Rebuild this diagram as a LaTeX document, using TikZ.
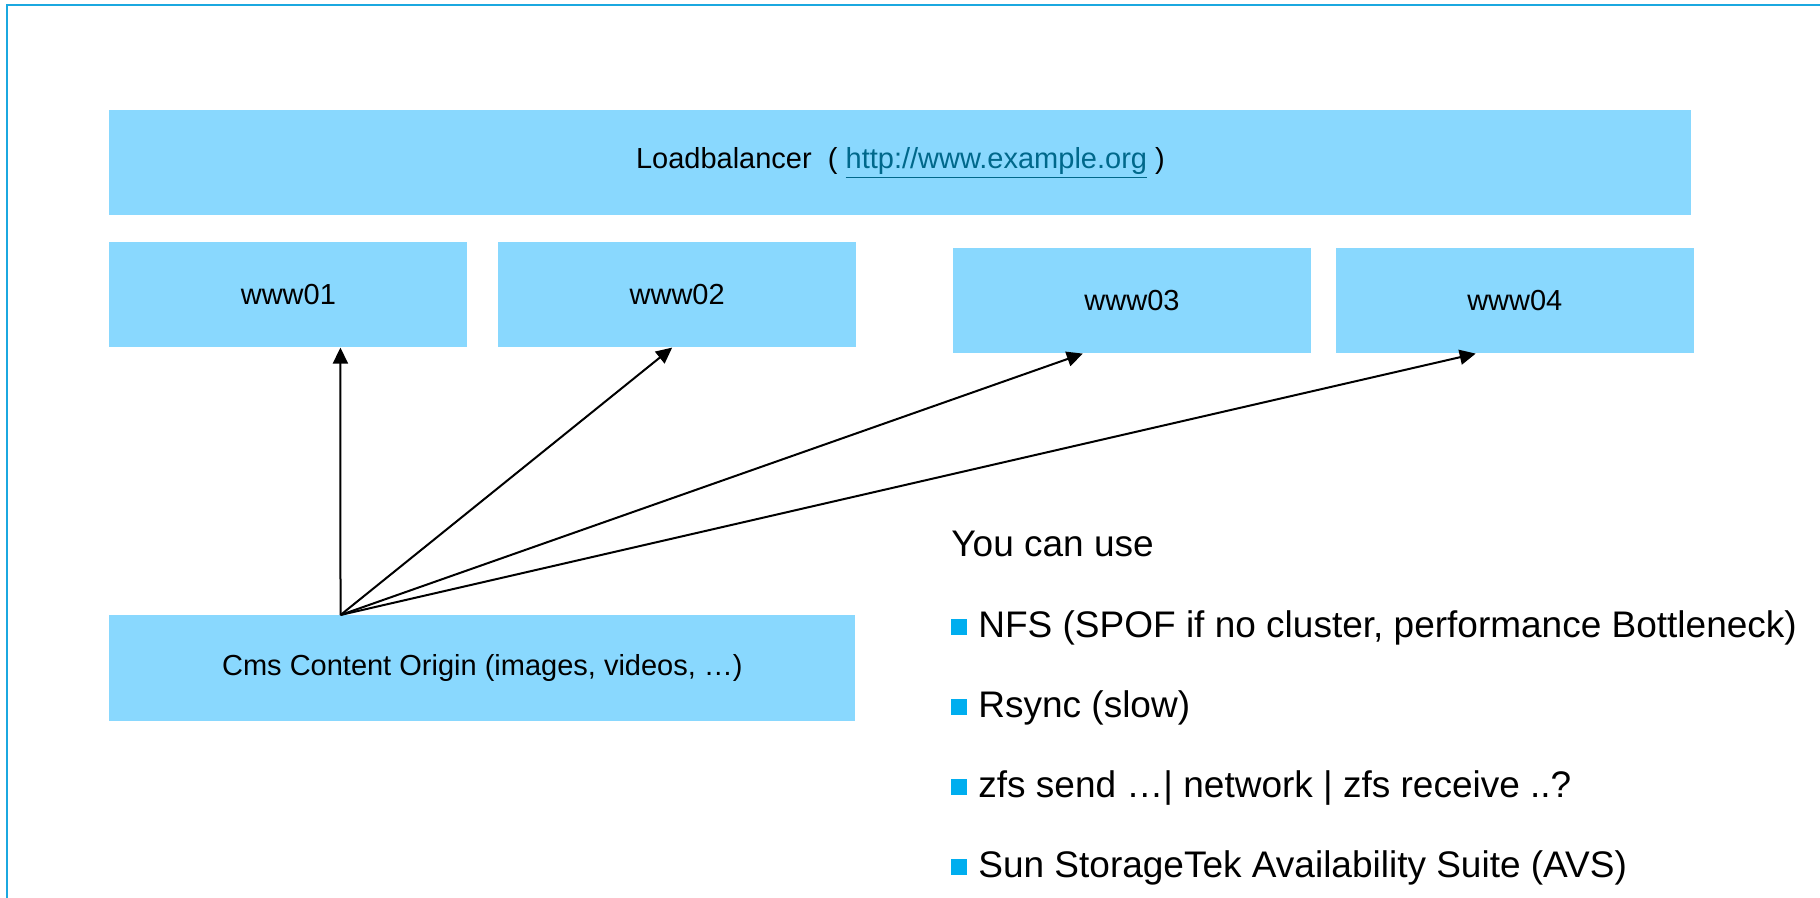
\documentclass[tikz,border=0pt]{standalone}
\usepackage{fontspec}
\setmainfont{Liberation Sans}
\usetikzlibrary{arrows.meta, calc, positioning}
\definecolor{boxblue}{RGB}{137,216,254}
\definecolor{framecyan}{RGB}{27,168,224}
\definecolor{bulletcyan}{RGB}{0,174,239}
\definecolor{linkteal}{RGB}{0,104,139}
\tikzset{
	server/.style={rectangle, fill=boxblue, inner sep=0pt, minimum width=179pt, minimum height=52.5pt, font=\fontsize{14.5pt}{17pt}\selectfont},
	feed/.style={line width=1pt, -{Triangle[length=8pt,width=7.5pt]}}
}
\newcommand{\sq}{\raisebox{1pt}{\textcolor{bulletcyan}{\rule{8pt}{8pt}}}\hspace{5.5pt}}

\begin{document}
\begin{tikzpicture}[
	item/.style={inner sep=0pt, anchor=base west, font=\fontsize{18.5pt}{22pt}\selectfont},
	node distance=13pt]
	\useasboundingbox (0,0) rectangle (910pt,-449pt);
	\draw[framecyan, line width=1pt] (3.5pt,-449pt) -- (3.5pt,-2.5pt) -- (910pt,-2.5pt);
	% balancer and web nodes
	\node[server, minimum width=791pt, anchor=north west] (lb) at (54.5pt,-55pt) {Loadbalancer\ \ ( \textcolor{linkteal}{\underline{http://www.example.org}} )};
	\node[server, below=of lb.south west, anchor=north west] (www01) {www01};
	\node[server, right=15pt of www01] (www02) {www02};
	\node[server, right=48pt of www02, yshift=-3pt] (www03) {www03};
	\node[server, right=12pt of www03] (www04) {www04};
	\node[server, minimum width=373pt, minimum height=53pt, anchor=north west] (cms) at (54.5pt,-307.5pt) {Cms Content Origin (images, videos, …)};
	% where the arrows meet the boxes
	\coordinate (src) at ($(cms.north west)!0.31!(cms.north east)$);
	\coordinate (in01) at ($(www01.south west)!0.645!(www01.south east)$);
	\coordinate (in02) at ($(www02.south west)!0.486!(www02.south east)$);
	\coordinate (in03) at ($(www03.south west)!0.363!(www03.south east)$);
	\coordinate (in04) at ($(www04.south west)!0.391!(www04.south east)$);
	\draw[feed] (src) -- (in01);
	\draw[feed] (src) -- (in02);
	\draw[feed] (src) -- (in03);
	\draw[feed] (src) -- (in04);
	% options
	\node[item] (use) at (475.5pt,-278pt) {You can use};
	\node[item] (nfs) at ([yshift=-40.5pt]use.base west) {\sq NFS (SPOF if no cluster, performance Bottleneck)};
	\node[item] (rsync) at ([yshift=-40pt]nfs.base west) {\sq Rsync (slow)};
	\node[item] (zfs) at ([yshift=-40pt]rsync.base west) {\sq zfs send …| network | zfs receive ..?};
	\node[item] (avs) at ([yshift=-40pt]zfs.base west) {\sq Sun StorageTek Availability Suite (AVS)};
\end{tikzpicture}
\end{document}
